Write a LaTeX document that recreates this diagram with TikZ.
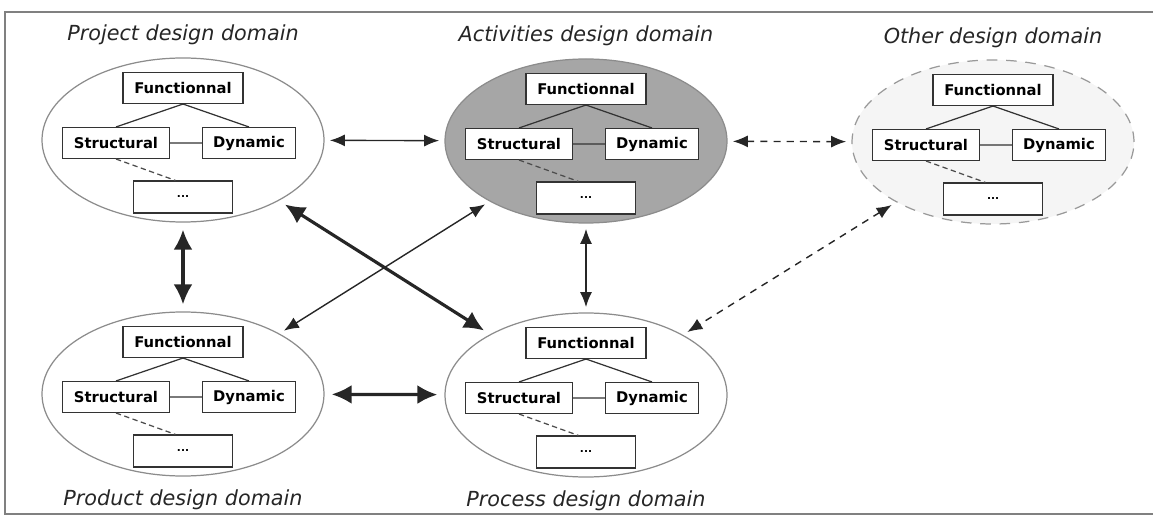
\documentclass[tikz,border=0pt]{standalone}
\usepackage{fontspec}
\setmainfont{DejaVu Sans}
\usetikzlibrary{shapes.geometric,arrows.meta,positioning}

\begin{document}
\begin{tikzpicture}[dom/.style={ellipse,draw=gray!90,line width=0.7pt,fill=white,minimum width=5.64cm,minimum height=3.28cm},
    box/.style={rectangle,draw=black!80,line width=0.6pt,fill=white,minimum height=0.62cm,inner sep=0pt,font=\bfseries\fontsize{8.4}{10}\selectfont},
    domlabel/.style={font=\itshape\fontsize{11.8}{14}\selectfont,text=black!85},
    link/.style={<->,>={Latex[length=3mm,width=2.4mm]},line width=0.8pt,draw=black!85,shorten <=3pt,shorten >=3pt},
    biglink/.style={<->,>={Latex[length=4mm,width=3.8mm]},line width=1.8pt,draw=black!85,shorten <=4pt,shorten >=4pt},
    farlink/.style={link,dash pattern=on 4pt off 3.5pt}]
       \useasboundingbox (0,0) rectangle (23.06,-10.34);
       \draw[gray,line width=0.6pt] (23.06,-0.24) -- (0.1,-0.24) -- (0.1,-10.28) -- (23.06,-10.28);

       % the five domains
       \node[dom] (pj) at (3.66,-2.8) {};
       \node[dom,fill=gray!70] (ac) at (11.72,-2.82) {};
       \node[dom,fill=black!4,draw=gray!80,dash pattern=on 6pt off 5pt] (ot) at (19.86,-2.84) {};
       \node[dom] (pd) at (3.66,-7.88) {};
       \node[dom] (pc) at (11.72,-7.9) {};

       \node[domlabel,above=0.12cm of pj] (pj-t) {Project design domain};
       \node[domlabel,above=0.12cm of ac] (ac-t) {Activities design domain};
       \node[domlabel,above=0.1cm of ot] (ot-t) {Other design domain};
       \node[domlabel,below=0.14cm of pd] (pd-t) {Product design domain};
       \node[domlabel,below=0.14cm of pc] (pc-t) {Process design domain};

       % views inside each domain
       \foreach \d in {pj,ac,ot,pd,pc}{
         \node[box,minimum width=2.4cm] (\d-f) at ([yshift=1.04cm]\d.center) {Functionnal};
         \node[box,minimum width=2.14cm] (\d-s) at ([xshift=-1.34cm,yshift=-0.06cm]\d.center) {Structural};
         \node[box,minimum width=1.86cm] (\d-d) at ([xshift=1.32cm,yshift=-0.06cm]\d.center) {Dynamic};
         \node[box,minimum width=1.98cm,minimum height=0.64cm,font=\bfseries\fontsize{6}{7}\selectfont] (\d-x) at ([yshift=-1.14cm]\d.center) {...};
         \draw[black!80,line width=0.7pt] (\d-f.south) -- (\d-s.north) (\d-f.south) -- (\d-d.north) (\d-s) -- (\d-d);
         \draw[black!70,line width=0.7pt,dash pattern=on 3pt off 2pt] (\d-s.south) -- ([xshift=-0.15cm]\d-x.north);
       }

       % links between domains
       \draw[link] (pj) -- (ac);
       \draw[farlink] (ac) -- (ot);
       \draw[biglink] (pj) -- (pd);
       \draw[biglink] (pj) -- (pc);
       \draw[link] (ac) -- (pd);
       \draw[link] (ac) -- (pc);
       \draw[farlink] (ot) -- (pc);
       \draw[biglink] (pd) -- (pc);
     \end{tikzpicture}
\end{document}
